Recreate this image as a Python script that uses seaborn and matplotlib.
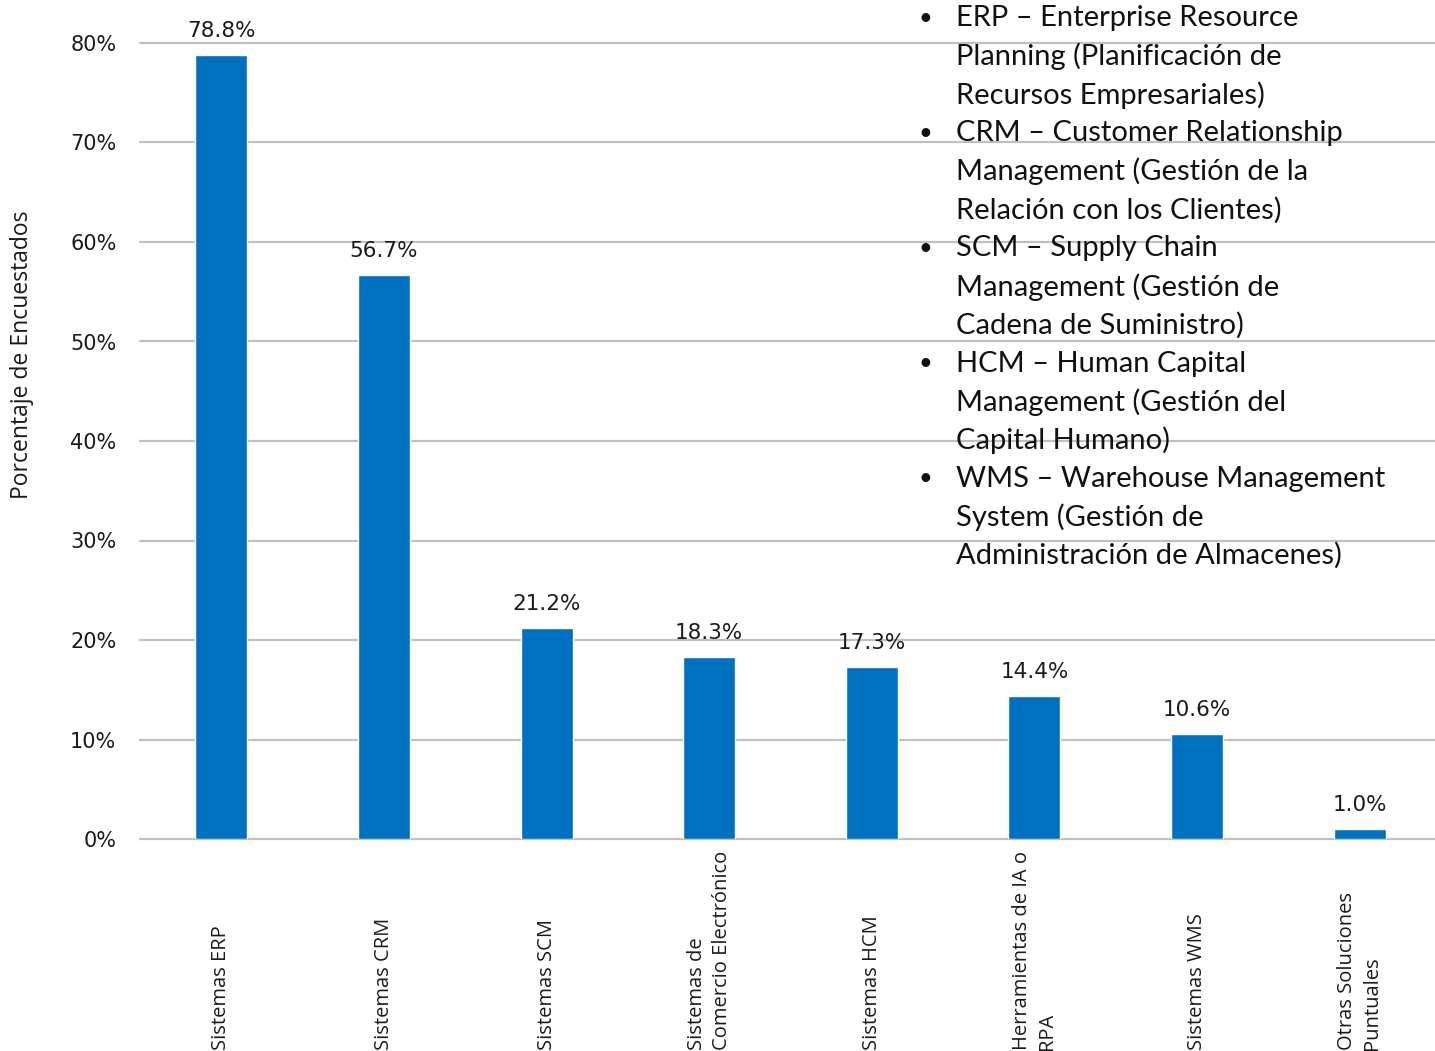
import matplotlib
matplotlib.use("Agg")
import matplotlib.pyplot as plt
import matplotlib.transforms as mtransforms
import seaborn as sns
import pandas as pd

categories = ["Sistemas ERP", "Sistemas CRM", "Sistemas SCM",
              "Sistemas de\nComercio Electrónico", "Sistemas HCM",
              "Herramientas de IA o\nRPA", "Sistemas WMS",
              "Otras Soluciones\nPuntuales"]
values = [78.8, 56.7, 21.2, 18.3, 17.3, 14.4, 10.6, 1.0]
yticks = [0, 10, 20, 30, 40, 50, 60, 70, 80]
ylabel = "Porcentaje de Encuestados"
notes = [
    ("•", "ERP – Enterprise Resource"),
    ("", "Planning (Planificación de"),
    ("", "Recursos Empresariales)"),
    ("•", "CRM – Customer Relationship"),
    ("", "Management (Gestión de la"),
    ("", "Relación con los Clientes)"),
    ("•", "SCM – Supply Chain"),
    ("", "Management (Gestión de"),
    ("", "Cadena de Suministro)"),
    ("•", "HCM – Human Capital"),
    ("", "Management (Gestión del"),
    ("", "Capital Humano)"),
    ("•", "WMS – Warehouse Management"),
    ("", "System (Gestión de"),
    ("", "Administración de Almacenes)"),
]

sns.set_theme(style="white")
plt.rcParams['font.family'] = ['DejaVu Sans']

W, H = 1435, 1051
fig = plt.figure(figsize=(W / 100, H / 100), dpi=100)
ax = fig.add_axes([140 / W, 1 - 839 / H, 1301 / W, (839 - 43) / H])

df = pd.DataFrame({"cat": categories, "val": values})
sns.barplot(data=df, x="cat", y="val", color="#0070C0", width=0.32,
            saturation=1, ax=ax, zorder=3)

ax.set_xlim(-0.5, len(categories) - 0.5)
ax.set_ylim(0, 80)
ax.set_yticks(yticks)
ax.set_yticklabels([f"{t}%" for t in yticks], fontsize=15, color="#1a1a1a")
ax.tick_params(axis="y", length=0, pad=17)
ax.set_xticks(range(len(categories)))
ax.set_xticklabels([""] * len(categories))
ax.tick_params(axis="x", length=0)
ax.set_xlabel("")
ax.set_ylabel("")
for s in ax.spines.values():
    s.set_visible(False)
ax.grid(False)
for t in yticks:
    ax.axhline(t, color="#c0c0c0", lw=1.6, zorder=1, clip_on=False)

for i, v in enumerate(values):
    ax.annotate(f"{v:.1f}%", (i, v), xytext=(0, 17), textcoords="offset points",
                ha="center", va="center", fontsize=15.5, color="#1a1a1a",
                annotation_clip=False)

trans = mtransforms.blended_transform_factory(ax.transData, fig.transFigure)
for i, c in enumerate(categories):
    ax.text(i, 1 / H, c, transform=trans, rotation=90, ha="center", va="bottom",
            multialignment="left", fontsize=14.5, family=["Open Sans", "DejaVu Sans"],
            color="#1a1a1a", linespacing=1.35)

fig.text(22 / W, 1 - 355 / H, ylabel, rotation=90, ha="center", va="center",
         fontsize=16.5, family=["Open Sans", "DejaVu Sans"], color="#1a1a1a")

y0 = 18
for k, (b, line) in enumerate(notes):
    yy = 1 - (y0 + k * 38.4) / H
    if b:
        fig.text(925 / W, yy, b, ha="center", va="center", fontsize=17,
                 family=["Lato", "DejaVu Sans"], color="#111111")
    fig.text(956 / W, yy, line, ha="left", va="center", fontsize=21,
             family=["Lato", "DejaVu Sans"], color="#111111")

fig.savefig("out.png", dpi=100)
